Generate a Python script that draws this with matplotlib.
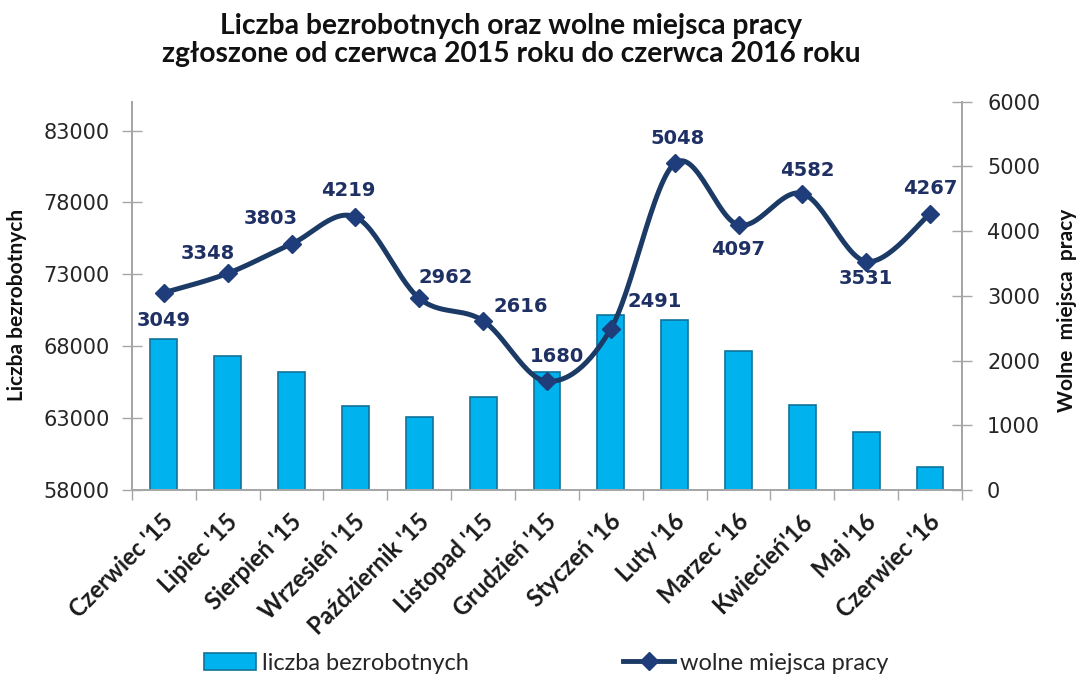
import numpy as np
import matplotlib
matplotlib.use("Agg")
import matplotlib.pyplot as plt
from matplotlib.lines import Line2D

# dane
months = ["Czerwiec '15", "Lipiec '15", "Sierpień '15", "Wrzesień '15", "Październik '15",
          "Listopad '15", "Grudzień '15", "Styczeń '16", "Luty '16", "Marzec '16",
          "Kwiecień'16", "Maj '16", "Czerwiec '16"]
unemployed = [68500, 67300, 66180, 63840, 63060, 64470, 66200, 70180, 69850, 67650,
              63940, 62040, 59610]
vacancies = [3049, 3348, 3803, 4219, 2962, 2616, 1680, 2491, 5048, 4097, 4582, 3531, 4267]

# przesuniecia etykiet danych (px)
label_dx = [0, -20, -21, -7, 26, 38, 10, 44, 3, 0, 5, 0, 0]
label_dy = [-28, 20, 25, 27, 21, 14, 25, 27, 25, -25, 23, -17, 25]

bar_color = '#00B2EE'
bar_edge = '#10729A'
line_color = '#1B3A66'
marker_color = '#1F3D7A'
axis_color = '#A6A6A6'


def smooth(xs, ys, sy, n=30):
    # krzywa Beziera jak "wygladzona linia" w Excelu
    pts = np.column_stack([np.asarray(xs, float), np.asarray(ys, float) * sy])
    p = np.vstack([pts[0], pts, pts[-1]])
    out = []
    t = np.linspace(0, 1, n)[:, None]
    for i in range(1, len(p) - 2):
        p0, p1, p2, p3 = p[i - 1], p[i], p[i + 1], p[i + 2]
        c1 = p1 + (p2 - p0) / 6
        c2 = p2 - (p3 - p1) / 6
        seg = (1 - t) ** 3 * p1 + 3 * (1 - t) ** 2 * t * c1 + 3 * (1 - t) * t ** 2 * c2 + t ** 3 * p2
        out.append(seg)
    out = np.vstack(out)
    return out[:, 0], out[:, 1] / sy


fig = plt.figure(figsize=(10.78, 6.74), dpi=100)
ax = fig.add_axes([0.1224, 0.273, 0.770, 0.576])
ax2 = ax.twinx()

x = np.arange(len(months))
bars = ax.bar(x, unemployed, width=0.42, color=bar_color, edgecolor=bar_edge, linewidth=1.2,
              zorder=2, label='liczba bezrobotnych')
ax.set_xlim(-0.5, len(months) - 0.5)
ax.set_ylim(58000, 85000)
ax.set_yticks(range(58000, 83001, 5000))
ax.set_yticklabels([str(v) for v in range(58000, 83001, 5000)], fontsize=15,
                   color='#262626', family='DejaVu Sans')
ax.tick_params(axis='y', direction='inout', length=14, width=1, color=axis_color, pad=9)

ax2.set_ylim(0, 6000)
ax2.set_yticks(range(0, 6001, 1000))
ax2.set_yticklabels([str(v) for v in range(0, 6001, 1000)], fontsize=15,
                    color='#262626', family='DejaVu Sans')
ax2.tick_params(axis='y', direction='inout', length=14, width=1, color=axis_color, pad=11)

for a in (ax, ax2):
    a.spines['top'].set_visible(False)
    for s in ('left', 'right', 'bottom'):
        a.spines[s].set_color(axis_color)
        a.spines[s].set_linewidth(1.3)

# os X: kreski miedzy kategoriami, etykiety pod kategoriami
ax.set_xticks(np.arange(-0.5, len(months), 1.0))
ax.set_xticklabels([])
ax.tick_params(axis='x', direction='out', length=7, width=1, color=axis_color)
for i, m in enumerate(months):
    ax.annotate(m, xy=(i, 0), xycoords=('data', 'axes fraction'),
                xytext=(6, -28), textcoords='offset pixels',
                rotation=45, ha='right', va='center', rotation_mode='anchor',
                fontsize=17, fontweight='bold',
                family=['Lato', 'DejaVu Sans'], color='#1a1a1a')

# linia wolnych miejsc pracy
sx, sy_line = smooth(x, vacancies, sy=(12 / 6000) * (0.576 * 674) / (0.770 * 1078 * 12 / 13))
ax2.plot(sx, sy_line, color=line_color, lw=3.6, zorder=3, solid_capstyle='round')
ax2.plot(x, vacancies, 'D', color=marker_color, markersize=9, zorder=4)
for i, v in enumerate(vacancies):
    ax2.annotate(str(v), xy=(i, v), xytext=(label_dx[i], label_dy[i]),
                 textcoords='offset pixels', ha='center', va='center',
                 fontsize=14, fontweight='bold', color='#1F3064',
                 family='DejaVu Sans', zorder=5)

ax2.patch.set_visible(False)

fig.text(0.016, 0.547, 'Liczba bezrobotnych', rotation=90, ha='center', va='center',
         fontsize=15, family=['Lato', 'DejaVu Sans'], fontweight='bold', color='#111111')
fig.text(0.99, 0.539, 'Wolne  miejsca  pracy', rotation=90, ha='center', va='center',
         fontsize=15, family=['Lato', 'DejaVu Sans'], fontweight='bold', color='#111111')

fig.text(0.474, 0.962, 'Liczba bezrobotnych oraz wolne miejsca pracy', ha='center', va='center',
         fontsize=20.3, fontweight='bold', family=['Lato', 'DejaVu Sans'], color='#111111')
fig.text(0.474, 0.920, 'zgłoszone od czerwca 2015 roku do czerwca 2016 roku', ha='center',
         va='center', fontsize=20.3, fontweight='bold', family=['Lato', 'DejaVu Sans'],
         color='#111111')

line_handle = Line2D([], [], color=line_color, lw=3.5, marker='D', markersize=9,
                     markerfacecolor=marker_color, markeredgecolor=marker_color)
leg = fig.legend([bars, line_handle], ['liczba bezrobotnych', 'wolne miejsca pracy'],
                 loc='center', bbox_to_anchor=(0.507, 0.016), ncol=2, frameon=False,
                 handlelength=2.2, handletextpad=0.25, columnspacing=6.5,
                 prop={'family': ['Lato', 'DejaVu Sans'], 'size': 17})
for t in leg.get_texts():
    t.set_color('#262626')

fig.savefig('out.png', dpi=100)
